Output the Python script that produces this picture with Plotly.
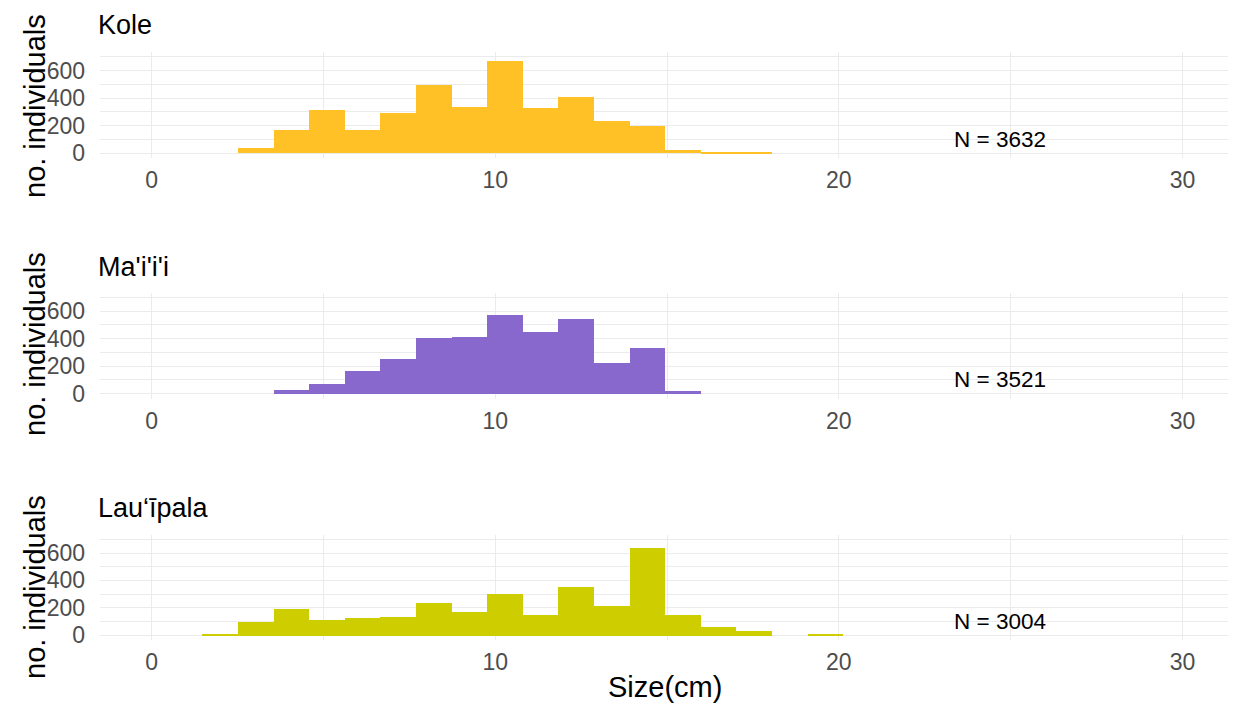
import plotly.graph_objects as go

# ---- data ----
species = ["Kole", "Ma'i'i'i", "Lau\u2018\u012bpala"]
colors = ["#FFC125", "#8968CD", "#CDCD00"]
n_labels = ["N = 3632", "N = 3521", "N = 3004"]

BIN_START = 1.48      # left edge of first bin (cm)
BIN_WIDTH = 1.036     # histogram bin width (cm)

kole_counts = [0, 41, 165, 316, 165, 292, 498, 335, 670, 325, 405, 233, 199, 26, 12, 12, 0, 0]
maiii_counts = [0, 0, 27, 75, 165, 257, 406, 419, 578, 455, 544, 223, 337, 25, 0, 0, 0, 0]
lauipala_counts = [15, 100, 195, 115, 130, 140, 238, 170, 308, 150, 352, 216, 640, 150, 60, 35, 0, 15]
all_counts = [kole_counts, maiii_counts, lauipala_counts]

x_ticks = [0, 10, 20, 30]
y_ticks = [0, 200, 400, 600]

# ---- figure ----
# the page body has an 8px margin; work in page pixels and shift by it
OFF = 8
W, H = 1236 - 2 * OFF, 712 - 2 * OFF
PANEL_L = 100           # page px of panel left edge
ML = PANEL_L - OFF
MR = 0
plot_w = W - ML - MR
PX_PER_CM = 1134 / 33.0
x_lo = -1.5
x_hi = x_lo + plot_w / PX_PER_CM

centers = [BIN_START + BIN_WIDTH * (i + 0.5) for i in range(len(kole_counts))]

# panel vertical extents in page pixels (top, bottom)
panels_px = [(52, 158), (292.5, 398.5), (534.5, 640)]
title_y_px = [25, 267, 508]
ytitle_y_px = [106, 344, 587]


def py(p):
    """page pixel (from top) -> paper fraction"""
    return (H - (p - OFF)) / H


def px(p):
    """page pixel (from left) -> paper fraction of plot area"""
    return (p - OFF - ML) / plot_w


fig = go.Figure()
FONT = "Liberation Sans, Arial, sans-serif"
GRID = "#EBEBEB"
TICKC = "#4D4D4D"

annotations = []
for i, (name, col, counts, nl) in enumerate(zip(species, colors, all_counts, n_labels)):
    sfx = "" if i == 0 else str(i + 1)
    fig.add_trace(go.Bar(
        x=centers, y=counts, width=BIN_WIDTH,
        marker=dict(color=col, line=dict(width=0)),
        xaxis="x" + sfx, yaxis="y" + sfx, showlegend=False,
    ))
    top, bot = panels_px[i]
    dom = [py(bot), py(top)]
    xa = dict(
        domain=[0, 1], range=[x_lo, x_hi], anchor="y" + sfx,
        tickvals=x_ticks, showgrid=True, gridcolor=GRID, gridwidth=1.3,
        zeroline=False, showline=False, ticks="",
        tickfont=dict(family=FONT, size=23, color=TICKC),
        ticklabelstandoff=6,
        minor=dict(tickvals=[5, 15, 25], showgrid=True, gridcolor=GRID, gridwidth=1),
        fixedrange=True,
    )
    ya = dict(
        domain=dom, range=[-35, 735], anchor="x" + sfx,
        tickvals=y_ticks, showgrid=True, gridcolor=GRID, gridwidth=1.3,
        zeroline=False, showline=False, ticks="",
        tickfont=dict(family=FONT, size=23, color=TICKC),
        ticklabelstandoff=14,
        minor=dict(tickvals=[100, 300, 500, 700], showgrid=True, gridcolor=GRID, gridwidth=1),
        fixedrange=True,
    )
    fig.layout["xaxis" + sfx] = xa
    fig.layout["yaxis" + sfx] = ya

    # panel title
    annotations.append(dict(
        text=name, xref="paper", yref="paper",
        x=px(96), y=py(title_y_px[i]),
        xanchor="left", yanchor="middle", showarrow=False,
        font=dict(family=FONT, size=27, color="#000000"),
    ))
    # y axis title
    annotations.append(dict(
        text="no. individuals", xref="paper", yref="paper",
        x=px(35), y=py(ytitle_y_px[i]),
        xanchor="center", yanchor="middle", textangle=-90, showarrow=False,
        font=dict(family=FONT, size=29, color="#000000"),
    ))
    # N label
    annotations.append(dict(
        text=nl, xref="x" + sfx, yref="y" + sfx, x=24.7, y=100,
        xanchor="center", yanchor="middle", showarrow=False,
        font=dict(family=FONT, size=22.5, color="#000000"),
    ))

annotations.append(dict(
    text="Size(cm)", xref="paper", yref="paper",
    x=px(665), y=py(705),
    xanchor="center", yanchor="bottom", showarrow=False,
    font=dict(family=FONT, size=29, color="#000000"),
))

fig.update_layout(
    width=W, height=H,
    margin=dict(l=ML, r=MR, t=0, b=0, autoexpand=False),
    paper_bgcolor="white", plot_bgcolor="white",
    bargap=0, annotations=annotations,
)

fig.write_html("out.html", config={"displayModeBar": False})
